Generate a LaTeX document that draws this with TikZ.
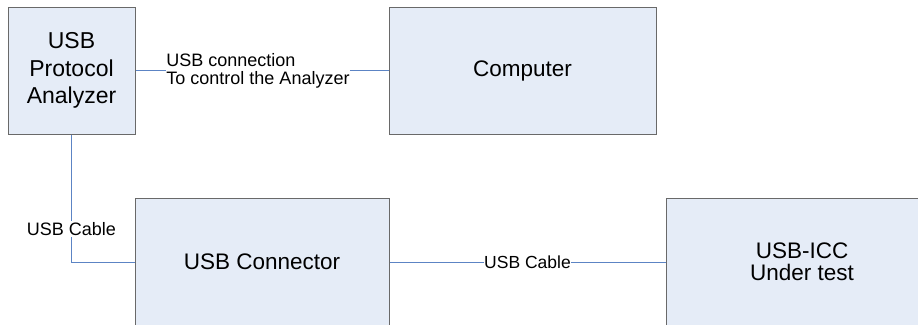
\documentclass[tikz,border=0pt]{standalone}
\usepackage{fontspec}
\setmainfont{Liberation Sans}
\definecolor{boxfill}{RGB}{229,236,247}
\definecolor{boxline}{RGB}{105,105,105}
\definecolor{wire}{RGB}{92,132,196}
\tikzset{>=stealth,
  unit/.style={draw=boxline, fill=boxfill, line width=1pt, inner sep=0pt,
    align=center, font=\fontsize{22.5}{22}\selectfont},
  cable/.style={draw=wire, line width=0.9pt},
  tag/.style={fill=white, inner sep=1.5pt, font=\fontsize{18}{18}\selectfont}}
\begin{document}
\begin{tikzpicture}[x=1pt, y=-1pt]
\useasboundingbox (0,0) rectangle (918,324);
\clip (0,0) rectangle (918,324);
\node[unit, minimum width=127pt, minimum height=127pt,
  font=\fontsize{23}{27.5}\selectfont] (analyzer) at (71.5,70.5) {USB\\Protocol\\Analyzer};
\node[unit, minimum width=267pt, minimum height=127pt] (computer) at (522.5,70.5) {Computer};
\node[unit, minimum width=254pt, minimum height=128pt] (connector) at (262,262) {USB Connector};
\node[unit, minimum width=272pt, minimum height=128pt] (icc) at (802,262) {USB-ICC\\Under test};
\draw[cable] (analyzer) -- node[tag, align=left, inner sep=0pt, xshift=-4pt] {USB connection\\To control the Analyzer} (computer);
\draw[cable] (analyzer) |- node[tag, pos=0.37] {USB Cable} (connector);
\draw[cable] (connector) -- node[tag, inner sep=0pt, font=\fontsize{17.5}{18}\selectfont] {USB Cable} (icc);
\end{tikzpicture}
\end{document}
